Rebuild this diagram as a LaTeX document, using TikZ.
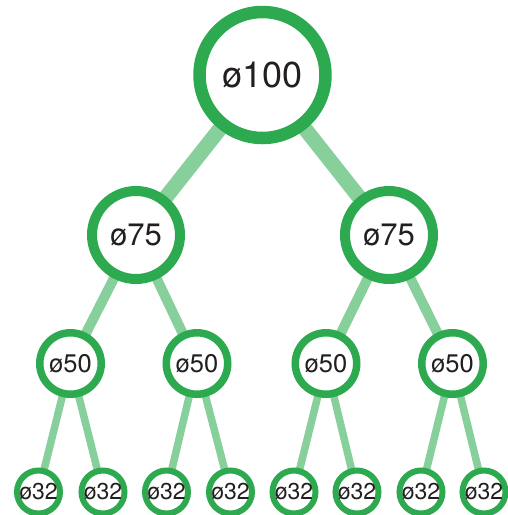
\documentclass[tikz,border=0pt]{standalone}
\usepackage{fontspec}
\setmainfont{TeX Gyre Heros}
\usetikzlibrary{backgrounds}
\definecolor{ringgreen}{HTML}{2DAA4F}
\definecolor{edgegreen}{HTML}{88D09B}
\definecolor{txt}{HTML}{231F20}
\begin{document}
\begin{tikzpicture}[x=1pt,y=-1pt,
  ring/.style={circle, draw=ringgreen, fill=white, inner sep=0pt, text=txt},
  lvlA/.style={ring, line width=12.5pt, minimum size=126pt, font=\fontsize{36}{40}\selectfont},
  lvlB/.style={ring, line width=10pt, minimum size=88pt, font=\fontsize{31}{34}\selectfont},
  lvlC/.style={ring, line width=7.5pt, minimum size=61.5pt, font=\fontsize{25.5}{28}\selectfont},
  lvlD/.style={ring, line width=6pt, minimum size=43pt, font=\fontsize{23}{26}\selectfont},
  edgeA/.style={draw=edgegreen, line width=15pt},
  edgeB/.style={draw=edgegreen, line width=10pt},
  edgeC/.style={draw=edgegreen, line width=7.5pt}]
\useasboundingbox (0,0) rectangle (507,515);
% level 1
\node[lvlA] (r) at (262.5,75) {ø100};
% level 2
\node[lvlB] (a) at (136,235) {ø75};
\node[lvlB] (b) at (389,235) {ø75};
% level 3
\node[lvlC] (a1) at (70.5,363.5) {ø50};
\node[lvlC] (a2) at (197,363.5) {ø50};
\node[lvlC] (b1) at (326,363.5) {ø50};
\node[lvlC] (b2) at (452.5,363.5) {ø50};
% level 4
\node[lvlD] (a11) at (38.5,492) {ø32};
\node[lvlD] (a12) at (103,492) {ø32};
\node[lvlD] (a21) at (166.5,492) {ø32};
\node[lvlD] (a22) at (230.5,492) {ø32};
\node[lvlD] (b11) at (294,492) {ø32};
\node[lvlD] (b12) at (357,492) {ø32};
\node[lvlD] (b21) at (421,492) {ø32};
\node[lvlD] (b22) at (484,492) {ø32};
\begin{pgfonlayer}{background}
  \draw[edgeA] (r.center) -- (a.center);
  \draw[edgeA] (r.center) -- (b.center);
  \draw[edgeB] (a.center) -- (a1.center);
  \draw[edgeB] (a.center) -- (a2.center);
  \draw[edgeB] (b.center) -- (b1.center);
  \draw[edgeB] (b.center) -- (b2.center);
  \draw[edgeC] (a1.center) -- (a11.center);
  \draw[edgeC] (a1.center) -- (a12.center);
  \draw[edgeC] (a2.center) -- (a21.center);
  \draw[edgeC] (a2.center) -- (a22.center);
  \draw[edgeC] (b1.center) -- (b11.center);
  \draw[edgeC] (b1.center) -- (b12.center);
  \draw[edgeC] (b2.center) -- (b21.center);
  \draw[edgeC] (b2.center) -- (b22.center);
\end{pgfonlayer}
\end{tikzpicture}
\end{document}
